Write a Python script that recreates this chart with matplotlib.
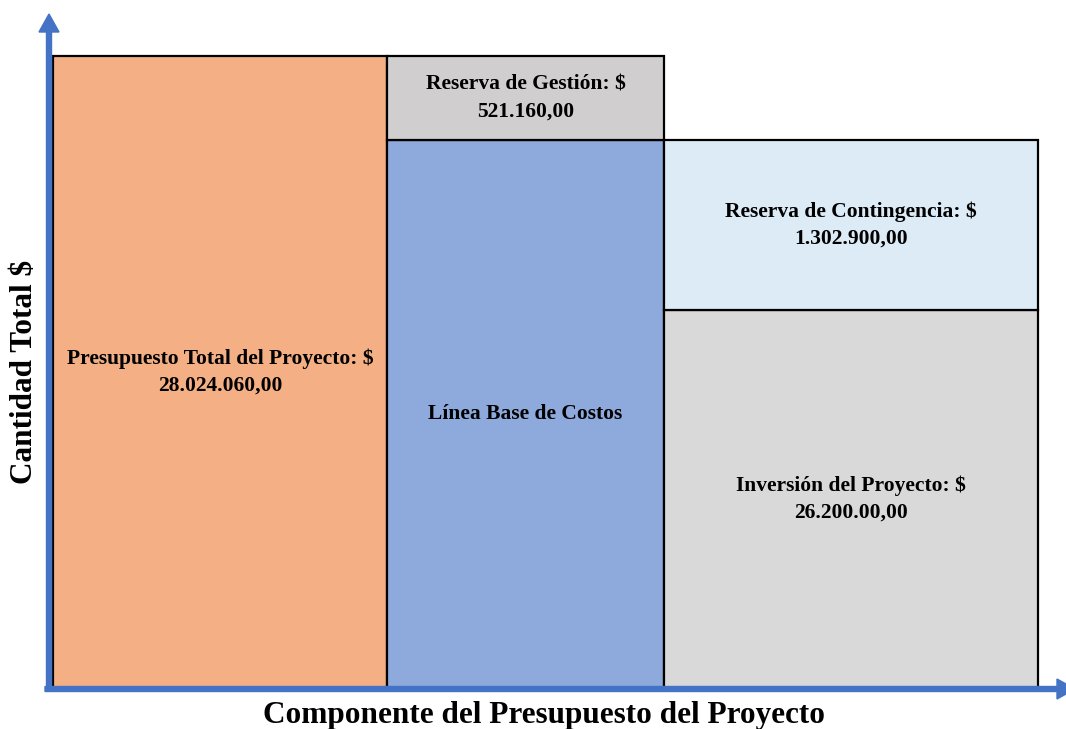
import matplotlib
matplotlib.use("Agg")
import matplotlib.pyplot as plt
from matplotlib.patches import FancyArrow
from matplotlib.transforms import IdentityTransform

# ---- data (schematic block heights) ----
columnas = ["Presupuesto Total", "Línea Base", "Reservas / Inversión"]
anchos_columna = [334, 277, 374]

bloques = ["Presupuesto Total del Proyecto", "Línea Base de Costos", "Reserva de Gestión",
           "Inversión del Proyecto", "Reserva de Contingencia"]
columna_bloque = [0, 1, 1, 2, 2]
altura_bloque = [632, 548, 84, 378, 170]
etiquetas = ["Presupuesto Total del Proyecto: $\n28.024.060,00",
             "Línea Base de Costos",
             "Reserva de Gestión: $\n521.160,00",
             "Inversión del Proyecto: $\n26.200.00,00",
             "Reserva de Contingencia: $\n1.302.900,00"]
colores = ["#F4B084", "#8EA9DB", "#D0CECE", "#D9D9D9", "#DDEBF7"]

eje_x = "Componente del Presupuesto del Proyecto"
eje_y = "Cantidad Total $"

plt.rcParams['font.family'] = ['Liberation Serif', 'DejaVu Serif']

W, H = 1066, 729
fig = plt.figure(figsize=(W / 100, H / 100), dpi=100)
ax = fig.add_axes([53 / W, (H - 688) / H, 985 / W, 632 / H])
ax.set_xlim(0, sum(anchos_columna))
ax.set_ylim(0, 632)
ax.axis('off')

lefts = [sum(anchos_columna[:i]) for i in range(len(anchos_columna))]
base = [0] * len(anchos_columna)
for nombre, col, h, lab, c in zip(bloques, columna_bloque, altura_bloque, etiquetas, colores):
    x0 = lefts[col]
    w = anchos_columna[col]
    ax.bar(x0, h, width=w, bottom=base[col], align='edge', color=c,
           edgecolor='black', linewidth=1.6, clip_on=False)
    ax.text(x0 + w / 2, base[col] + h / 2, lab, ha='center', va='center',
            multialignment='center', fontsize=15.5, fontweight='bold',
            linespacing=1.45, color='black')
    base[col] += h

arrow_color = '#4472C4'
fig.add_artist(FancyArrow(49, H - 690, 0, 676, width=5, head_width=20, head_length=18,
                          length_includes_head=True, color=arrow_color,
                          transform=IdentityTransform(), zorder=5))
fig.add_artist(FancyArrow(45, H - 689, 1030, 0, width=5, head_width=20, head_length=18,
                          length_includes_head=True, color=arrow_color,
                          transform=IdentityTransform(), zorder=5))

fig.text(544 / W, (H - 715) / H, eje_x, ha='center', va='center',
         fontsize=22.5, fontweight='bold')
fig.text(25 / W, (H - 372) / H, eje_y, ha='center', va='center', rotation=90,
         fontsize=22.5, fontweight='bold')

fig.savefig("out.png", dpi=100)
